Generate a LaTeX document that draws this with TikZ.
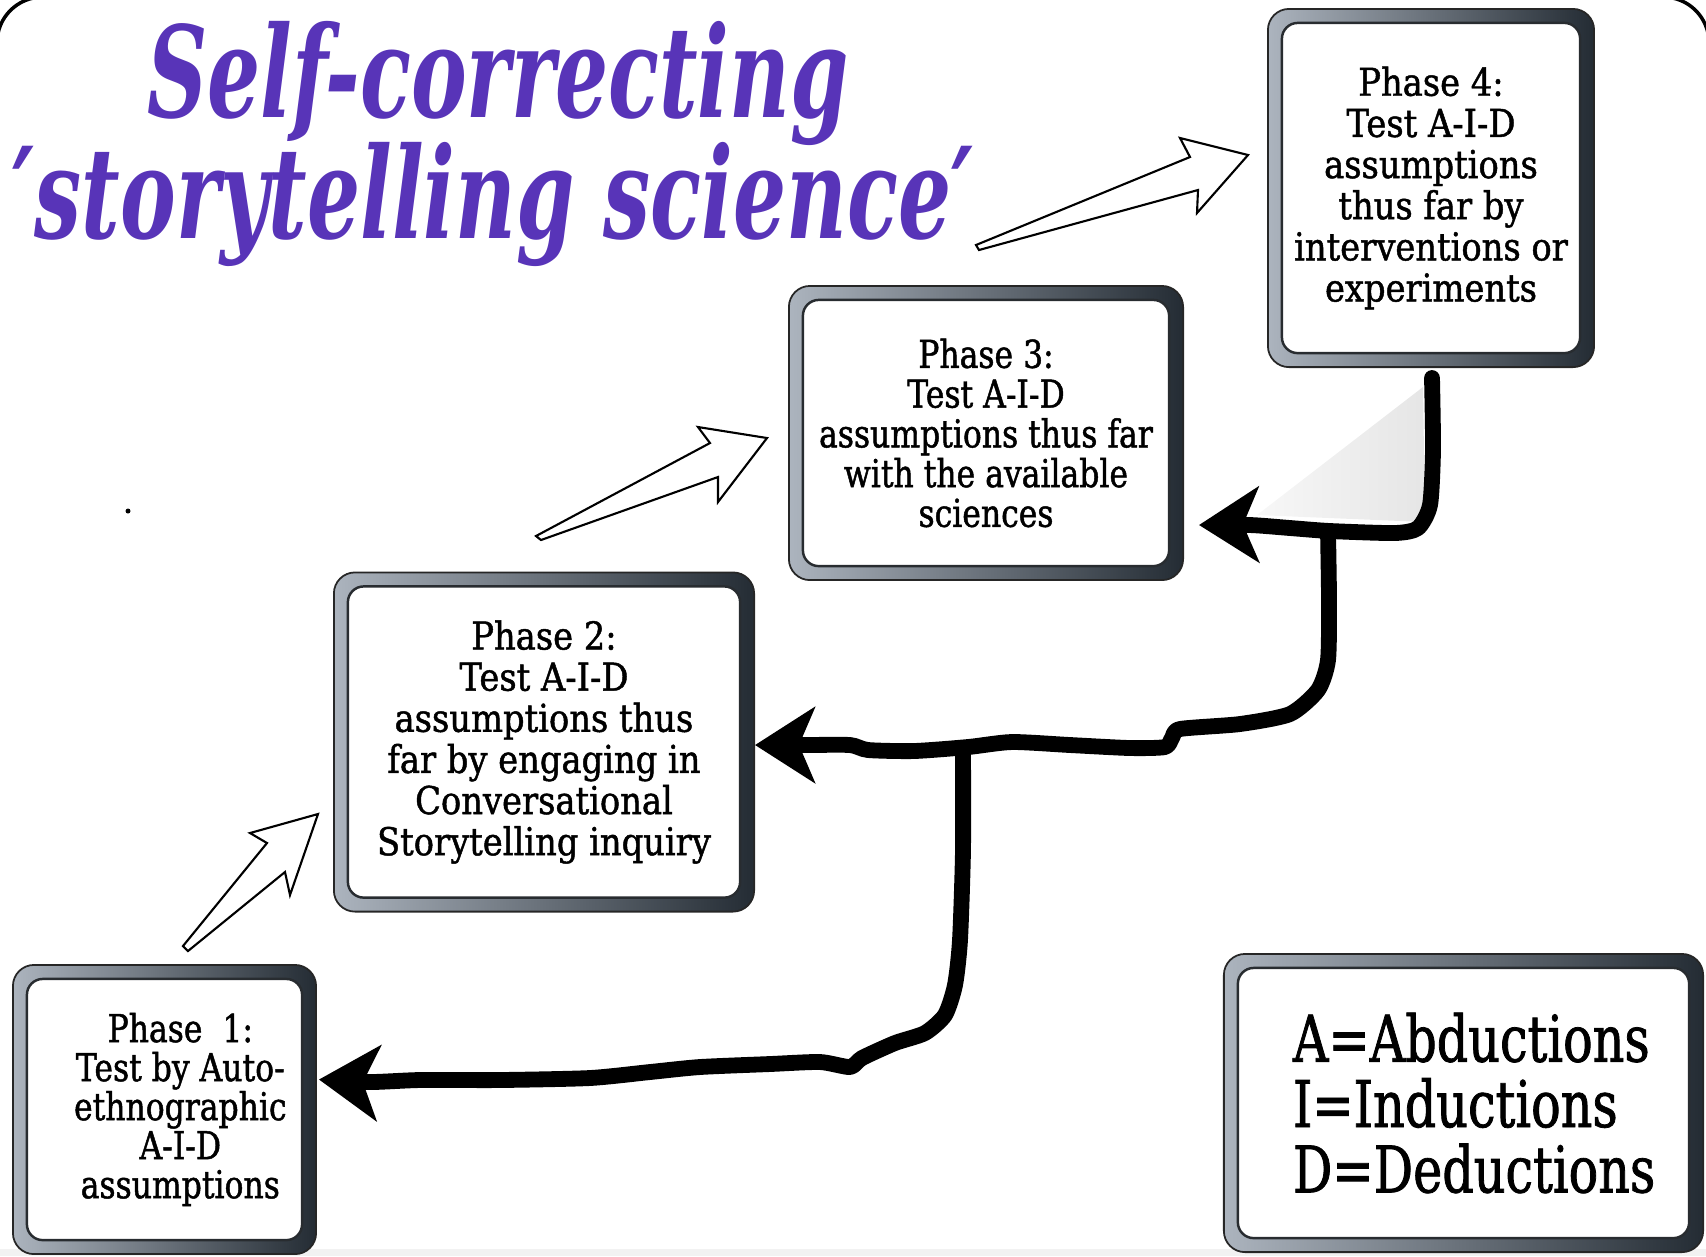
\documentclass[tikz,border=0pt]{standalone}
\usepackage{fontspec}
\newfontfamily\boxfont{DejaVu Serif}[FakeStretch=0.82,FakeBold=1.2]
\newfontfamily\boxfontw{DejaVu Serif}[FakeStretch=0.88,FakeBold=1.2]
\newfontfamily\legfont{DejaVu Serif}[FakeStretch=0.765,FakeBold=1.2]
\newfontfamily\titlefont{DejaVu Serif}[FakeStretch=0.66]
\usetikzlibrary{arrows.meta,calc}
\definecolor{titlepurple}{RGB}{88,52,184}
\definecolor{boxL}{RGB}{172,180,190}
\definecolor{boxR}{RGB}{36,44,52}
\definecolor{innerline}{RGB}{40,44,48}
\tikzset{
  phase/.style={draw=black!85, line width=0.5pt, rounded corners=6pt,
    left color=boxL, right color=boxR, inner sep=0pt, align=center,
    font=\boxfont\fontsize{10.9}{11.7}\selectfont,
    path picture={\draw[fill=white, draw=innerline, line width=0.7pt, rounded corners=4.5pt]
      ($(path picture bounding box.south west)+(14,-14)$) rectangle
      ($(path picture bounding box.north east)+(-14,14)$);}},
  titletext/.style={text=titlepurple, inner sep=0pt,
    font=\titlefont\bfseries\itshape\fontsize{36}{34.4}\selectfont},
  feedback/.style={line width=4.5pt, line cap=round, line join=round,
    -{Stealth[length=17pt,width=21.5pt,inset=4.5pt]}},
  hollow/.style={draw=black, fill=white, line width=0.6pt, line join=miter},
}
\begin{document}
\begin{tikzpicture}[x=0.01cm,y=-0.01cm]
\useasboundingbox (0,0) rectangle (1706,1256);
\fill[black!5] (0,1249) rectangle (1706,1256);
\draw[line width=1pt, rounded corners=13pt] (-3,-3) rectangle (1709,1320);

% title
\node[titletext, anchor=base] (title1) at (498,117) {Self-correcting};
\node[titletext, anchor=base] (title2) at (493,238) {\symbol{"2032}storytelling science\symbol{"2032}};

% phase boxes
\node[phase, minimum width=3.26cm, minimum height=3.58cm,
  font=\boxfontw\fontsize{10.9}{11.7}\selectfont] (p4) at (1431,188)
  {Phase 4:\\Test A-I-D\\assumptions\\thus far by\\interventions or\\experiments};
\node[phase, minimum width=3.94cm, minimum height=2.94cm,
  font=\boxfont\fontsize{10.9}{11.3}\selectfont] (p3) at (986,433)
  {Phase 3:\\Test A-I-D\\assumptions thus far\\with the available\\sciences};
\node[phase, minimum width=4.20cm, minimum height=3.39cm,
  font=\boxfontw\fontsize{10.9}{11.7}\selectfont] (p2) at (544,742)
  {Phase 2:\\Test A-I-D\\assumptions thus\\far by engaging in\\Conversational\\Storytelling inquiry};
\node[phase, minimum width=3.03cm, minimum height=2.89cm,
  font=\boxfont\fontsize{10.9}{11.1}\selectfont] (p1) at (164.5,1109.5)
  {\hspace*{9pt}Phase\ \ 1:\\\hspace*{9pt}Test by Auto-\\\hspace*{9pt}ethnographic\\\hspace*{9pt}A-I-D\\\hspace*{9pt}assumptions};
\node[phase, align=left, minimum width=4.79cm, minimum height=2.98cm,
  font=\legfont\fontsize{18.3}{18.6}\selectfont] (legend) at (1463.5,1103)
  {\hspace*{6pt}A=Abductions\\\hspace*{6pt}I=Inductions\\\hspace*{6pt}D=Deductions};

% stray dot
\fill (128,511) circle (2.5);

% hollow progression arrows
\draw[hollow] (183,946) -- (267,843) -- (250,833) -- (318,814) -- (290,895) -- (285,872) -- (188,951) -- cycle;
\draw[hollow] (536,536) -- (710,443) -- (698,427) -- (767,438) -- (718,502) -- (718,477) -- (541,540) -- cycle;
\draw[hollow] (976,245) -- (1190,157) -- (1180,138) -- (1248,155) -- (1197,213) -- (1198,190) -- (979,250) -- cycle;

% shaded triangle
\shade[left color=black!3, right color=black!10] (1423,387) -- (1425,522) -- (1257,515) -- cycle;

% feedback connectors
\coordinate (s1) at ($(p4.south)+(1,10)$);
\coordinate (e1) at ($(p3.east)+(15,92)$);
\coordinate (j1) at (1328,531);
\coordinate (e2) at ($(p2.east)+(0,3)$);
\coordinate (j2) at (963,748);
\coordinate (e3) at ($(p1.east)+(2,-30)$);

\draw[feedback] plot[smooth, tension=0.4] coordinates {(s1) (1433,450) (1430,505) (1418,528) (1395,533) (1330,531) (1290,528) (1250,525) (e1)};
\draw[feedback] plot[smooth, tension=0.4] coordinates {(j1) (1329,600) (1328,660) (1318,690) (1290,714) (1240,724) (1180,729) (1172,738) (1165,747) (1130,748) (1070,745) (1012,742) (968,747) (914,751) (868,750) (850,745) (805,745) (e2)};
\draw[feedback] plot[smooth, tension=0.4] coordinates {(j2) (963,850) (960,940) (955,985) (945,1015) (925,1033) (895,1043) (862,1058) (850,1067) (820,1062) (770,1064) (700,1067) (650,1072) (590,1078) (500,1080) (420,1080) (370,1082) (e3)};
\end{tikzpicture}
\end{document}
